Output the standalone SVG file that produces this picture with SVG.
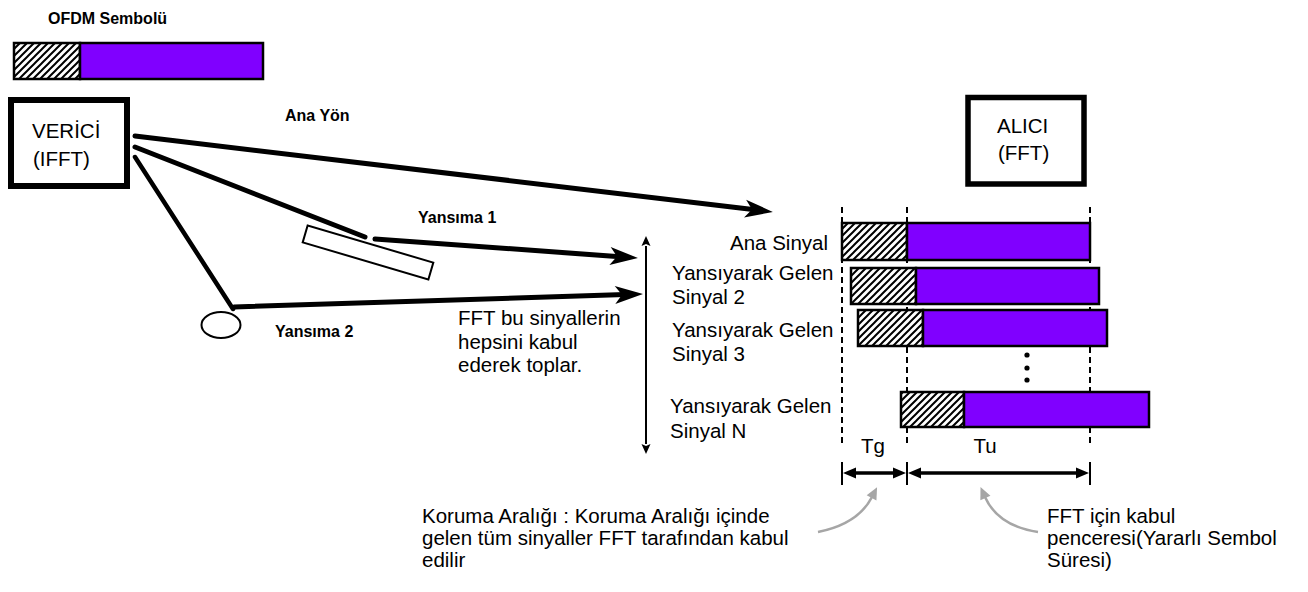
<svg xmlns="http://www.w3.org/2000/svg" width="1308" height="592" viewBox="0 0 1308 592">
<style>
.t{font-family:"Liberation Sans",Arial,sans-serif;font-size:20.5px;fill:#000}
.b{font-family:"Liberation Sans",Arial,sans-serif;font-size:16px;font-weight:bold;fill:#000}
.box{fill:#fff;stroke:#000}
.hat{fill:url(#hatch);stroke:#000;stroke-width:2.5}
.pur{fill:#8000FF;stroke:#000;stroke-width:2.5}
.ray{stroke:#000;fill:none;stroke-linecap:round}
.dash{stroke:#000;stroke-width:2;stroke-dasharray:6 4}
.dim{stroke:#000;stroke-width:3.5}
.tick{stroke:#000;stroke-width:2}
.gray{stroke:#A6A6A6;stroke-width:2.5;fill:none}
</style>
<defs>
<pattern id="hatch" patternUnits="userSpaceOnUse" width="7" height="7">
<rect width="7" height="7" fill="#fff"/>
<path d="M-1,8 L8,-1 M-1,1 L1,-1 M6,8 L8,6" stroke="#000" stroke-width="2"/>
</pattern>
<marker id="stealth" markerUnits="userSpaceOnUse" viewBox="-12 -10 32 20" refX="0" refY="0" markerWidth="32" markerHeight="20" orient="auto">
<path d="M18,0 L-10,-9 L-3,0 L-10,9 Z" fill="#000"/>
</marker>
<marker id="thin" markerUnits="userSpaceOnUse" viewBox="-2 -6 14 12" refX="0" refY="0" markerWidth="14" markerHeight="12" orient="auto">
<path d="M10,0 L0,-4.5 L2,0 L0,4.5 Z" fill="#000"/>
</marker>
<marker id="grayh" markerUnits="userSpaceOnUse" viewBox="-2 -7 16 14" refX="0" refY="0" markerWidth="16" markerHeight="14" orient="auto">
<path d="M11,0 L-1,-5.5 L-1,5.5 Z" fill="#A6A6A6"/>
</marker>
</defs>
<rect width="1308" height="592" fill="#fff"/>

<g id="ofdm-symbol">
<text class="b" x="48" y="24">OFDM Sembolü</text>
<rect class="hat" x="14" y="43" width="66" height="36"/>
<rect class="pur" x="80" y="43" width="183" height="36"/>
</g>

<g id="verici">
<rect class="box" x="11" y="100" width="116" height="86" stroke-width="6"/>
<text class="t" x="32" y="138">VERİCİ</text>
<text class="t" x="33" y="166">(IFFT)</text>
</g>

<g id="alici">
<rect class="box" x="968" y="97.5" width="116" height="86.5" stroke-width="5.5"/>
<text class="t" x="997" y="133">ALICI</text>
<text class="t" x="998" y="160">(FFT)</text>
</g>

<g id="reflector1">
<rect x="-65.5" y="-8.75" width="131" height="17.5" fill="#fff" stroke="#000" stroke-width="2" transform="translate(368,252.5) rotate(16.4)"/>
</g>
<g id="reflector2">
<ellipse cx="221" cy="325" rx="19.5" ry="13" fill="#fff" stroke="#000" stroke-width="2"/>
</g>

<g id="connectors">
<line class="ray" x1="135" y1="136" x2="755" y2="209.8" stroke-width="5" marker-end="url(#stealth)"/>
<line class="ray" x1="135" y1="147" x2="365" y2="237" stroke-width="5"/>
<line class="ray" x1="135" y1="157" x2="233" y2="309" stroke-width="4.5"/>
<line class="ray" x1="375" y1="239" x2="620" y2="256.7" stroke-width="5" marker-end="url(#stealth)"/>
<line class="ray" x1="234" y1="307" x2="625" y2="294.6" stroke-width="5" marker-end="url(#stealth)"/>
<line x1="646" y1="440" x2="646" y2="246" stroke="#000" stroke-width="2" marker-end="url(#thin)"/>
<line x1="646" y1="250" x2="646" y2="444" stroke="#000" stroke-width="2" marker-end="url(#thin)"/>
<path class="gray" d="M818,532 Q858,524 872,497" marker-end="url(#grayh)"/>
<path class="gray" d="M1038,532 Q998,526 985,497" marker-end="url(#grayh)"/>
</g>

<g id="labels">
<text class="b" x="285" y="121">Ana Yön</text>
<text class="b" x="418" y="223">Yansıma 1</text>
<text class="b" x="275" y="337">Yansıma 2</text>
<text class="t" x="458" y="325">FFT bu sinyallerin</text>
<text class="t" x="458" y="349">hepsini kabul</text>
<text class="t" x="458" y="372">ederek toplar.</text>
</g>

<g id="guides">
<line class="dash" x1="842" y1="207" x2="842" y2="447"/>
<line class="dash" x1="907" y1="207" x2="907" y2="447"/>
<line class="dash" x1="1090" y1="207" x2="1090" y2="447"/>
</g>

<g id="signal-main">
<text class="t" x="828" y="250" text-anchor="end">Ana Sinyal</text>
<rect class="hat" x="842" y="223" width="65" height="37"/>
<rect class="pur" x="907" y="223" width="183" height="37"/>
</g>
<g id="signal-2">
<text class="t" x="672" y="280">Yansıyarak Gelen</text>
<text class="t" x="672" y="304">Sinyal 2</text>
<rect class="hat" x="851" y="268" width="65" height="36"/>
<rect class="pur" x="916" y="268" width="183" height="36"/>
</g>
<g id="signal-3">
<text class="t" x="672" y="337">Yansıyarak Gelen</text>
<text class="t" x="672" y="361">Sinyal 3</text>
<rect class="hat" x="858" y="310" width="65" height="36"/>
<rect class="pur" x="923" y="310" width="184" height="36"/>
</g>
<g id="dots">
<circle cx="1027" cy="355" r="2.6"/>
<circle cx="1027" cy="368" r="2.6"/>
<circle cx="1027" cy="380" r="2.6"/>
</g>
<g id="signal-n">
<text class="t" x="670" y="413">Yansıyarak Gelen</text>
<text class="t" x="670" y="438">Sinyal N</text>
<rect class="hat" x="901" y="392" width="63" height="35"/>
<rect class="pur" x="964" y="392" width="185" height="35"/>
</g>

<g id="dimensions">
<line class="tick" x1="842" y1="462" x2="842" y2="485"/>
<line class="tick" x1="907" y1="462" x2="907" y2="485"/>
<line class="tick" x1="1090" y1="462" x2="1090" y2="485"/>
<line class="dim" x1="856" y1="473" x2="893" y2="473"/>
<path d="M843,473 L856,467.5 L856,478.5 Z M906,473 L893,467.5 L893,478.5 Z"/>
<line class="dim" x1="921" y1="473" x2="1076" y2="473"/>
<path d="M908,473 L921,467.5 L921,478.5 Z M1089,473 L1076,467.5 L1076,478.5 Z"/>
<text class="t" x="873" y="453" text-anchor="middle">Tg</text>
<text class="t" x="985" y="453" text-anchor="middle">Tu</text>
</g>

<g id="notes">
<text class="t" x="422" y="523">Koruma Aralığı : Koruma Aralığı içinde</text>
<text class="t" x="422" y="545">gelen tüm sinyaller FFT tarafından kabul</text>
<text class="t" x="422" y="567">edilir</text>
<text class="t" x="1047" y="523">FFT için kabul</text>
<text class="t" x="1047" y="545">penceresi(Yararlı Sembol</text>
<text class="t" x="1047" y="567">Süresi)</text>
</g>
</svg>
